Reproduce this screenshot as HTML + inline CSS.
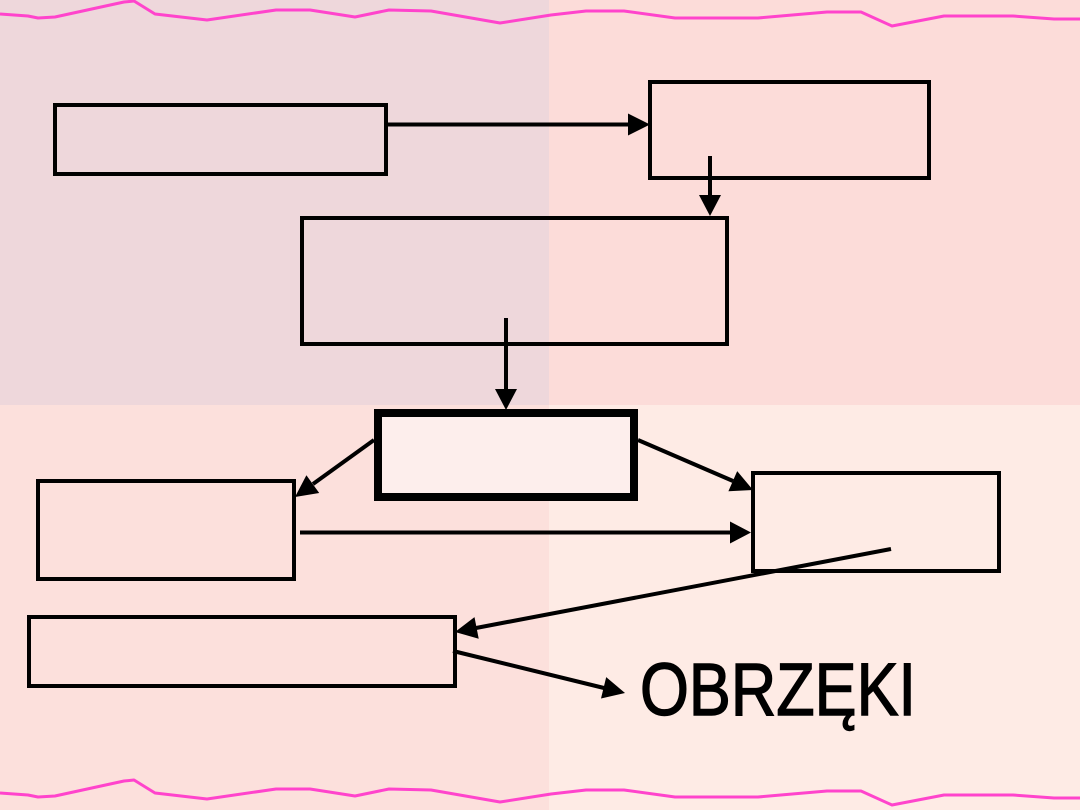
<!DOCTYPE html>
<html>
<head>
<meta charset="utf-8">
<style>
  html,body{margin:0;padding:0;}
  body{width:1080px;height:810px;overflow:hidden;}
  svg{display:block;}
</style>
</head>
<body>
<svg width="1080" height="810" viewBox="0 0 1080 810" xmlns="http://www.w3.org/2000/svg">
  <!-- background quadrants -->
  <rect x="0" y="0" width="549" height="405" fill="#eed7db"/>
  <rect x="549" y="0" width="531" height="405" fill="#fcdcd9"/>
  <rect x="0" y="405" width="549" height="405" fill="#fce0dc"/>
  <rect x="549" y="405" width="531" height="405" fill="#feebe5"/>

  <!-- wavy lines -->
  <g fill="none" stroke="#ff44cc" stroke-width="3" stroke-linejoin="round">
    <polyline points="0,14 28,16 38,18 55,17 124,2 134,1 155,14 207,20 276,10 310,10 355,17 389,10 431,11 500,23 551,15 586,11 624,11 675,18 758,18 827,12 861,12 892,26 944,16 1013,16 1054,19 1080,19"/>
    <polyline points="0,793 28,795 38,797 55,796 124,781 134,780 155,793 207,799 276,789 310,789 355,796 389,789 431,790 500,802 551,794 586,790 624,790 675,797 758,797 827,791 861,791 892,805 944,795 1013,795 1054,798 1080,798"/>
  </g>

  <!-- boxes -->
  <g fill="none" stroke="#000" stroke-width="4">
    <rect x="55" y="105" width="331" height="69"/>
    <rect x="650" y="82" width="279" height="96"/>
    <rect x="302" y="218" width="425" height="126"/>
    <rect x="38" y="481" width="256" height="98"/>
    <rect x="753" y="473" width="246" height="98"/>
    <rect x="29" y="617" width="426" height="69"/>
  </g>
  <rect x="378" y="413" width="256" height="84" fill="#fdeeec" stroke="#000" stroke-width="8"/>

  <!-- connectors -->
  <g stroke="#000" stroke-width="4" fill="none">
    <line x1="388" y1="124.5" x2="630" y2="124.5"/>
    <line x1="710" y1="156" x2="710" y2="197"/>
    <line x1="506" y1="318" x2="506" y2="391"/>
    <line x1="374" y1="440" x2="313" y2="484"/>
    <line x1="638" y1="440" x2="733" y2="481"/>
    <line x1="300" y1="532.5" x2="732" y2="532.5"/>
    <line x1="891" y1="549" x2="476" y2="628"/>
    <line x1="453" y1="651" x2="604" y2="688"/>
  </g>
  <g fill="#000">
    <polygon points="650,124.5 628,113.5 628,135.5"/>
    <polygon points="710,216 699,195 721,195"/>
    <polygon points="506,410 495,389 517,389"/>
    <polygon points="295,497 319.2,493 306.4,475.2"/>
    <polygon points="753,490 728.4,491.3 737.2,471.1"/>
    <polygon points="751,532.5 730,521.5 730,543.5"/>
    <polygon points="455,632 478.7,638.7 474.5,617.1"/>
    <polygon points="625,693 601,698.5 606.2,677.1"/>
  </g>

  <text x="640" y="715" font-family="'Liberation Sans', sans-serif" font-size="74" fill="#000" stroke="#000" stroke-width="1.4" textLength="276" lengthAdjust="spacingAndGlyphs">OBRZĘKI</text>
</svg>
</body>
</html>
